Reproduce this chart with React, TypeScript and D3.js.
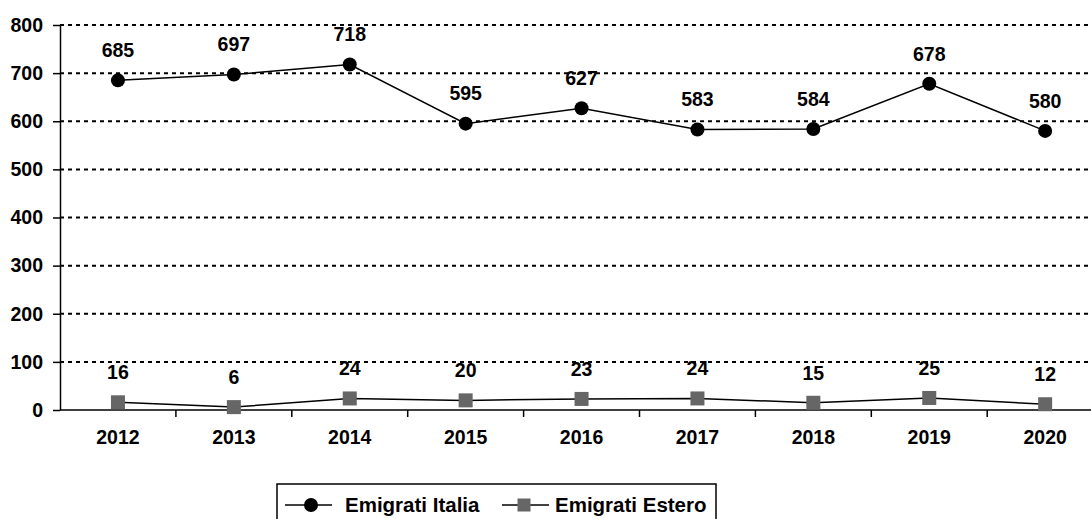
import { useEffect, useRef } from "react";
import * as d3 from "d3";

const years = ["2012", "2013", "2014", "2015", "2016", "2017", "2018", "2019", "2020"];
const italia = [685, 697, 718, 595, 627, 583, 584, 678, 580];
const estero = [16, 6, 24, 20, 23, 24, 15, 25, 12];
const yTicks = [0, 100, 200, 300, 400, 500, 600, 700, 800];
const seriesNames = ["Emigrati Italia", "Emigrati Estero"];

export default function App() {
  const ref = useRef<HTMLDivElement>(null);

  useEffect(() => {
    const outerWidth = 1091;
    const outerHeight = 519;
    const font = "'Liberation Sans', Arial, sans-serif";
    const fs = 19.5;

    const root = d3
      .select(ref.current)
      .html("")
      .append("svg")
      .attr("width", outerWidth)
      .attr("height", outerHeight)
      .style("display", "block")
      .style("font-family", font);

    root.append("rect").attr("width", outerWidth).attr("height", outerHeight).attr("fill", "white");

    const left = 60;
    const x = d3
      .scaleBand()
      .domain(years)
      .range([left, left + 115.9 * 9]);

    const y = d3.scaleLinear().domain([0, 800]).range([410, 25]);

    // dotted grid
    root
      .append("g")
      .selectAll("line")
      .data(yTicks.filter((d) => d > 0))
      .join("line")
      .attr("x1", left)
      .attr("x2", outerWidth)
      .attr("y1", (d) => y(d))
      .attr("y2", (d) => y(d))
      .attr("stroke", "black")
      .attr("stroke-width", 2)
      .attr("stroke-dasharray", "4,4");

    // y axis
    const yAxis = root
      .append("g")
      .attr("transform", `translate(${left},0)`)
      .call(d3.axisLeft(y).tickValues(yTicks).tickSize(7).tickSizeOuter(0).tickPadding(10));
    yAxis.select(".domain").attr("stroke", "black").attr("stroke-width", 1.5);
    yAxis.selectAll(".tick line").attr("stroke-width", 1.5);
    yAxis
      .selectAll(".tick text")
      .attr("font-family", font)
      .attr("font-size", fs)
      .attr("font-weight", "bold")
      .attr("fill", "black");

    // x axis
    const xAxis = root
      .append("g")
      .attr("transform", `translate(0,${y(0)})`)
      .call(d3.axisBottom(x).tickSize(0).tickPadding(20));
    xAxis.select(".domain").remove();
    xAxis
      .append("line")
      .attr("x1", left)
      .attr("x2", outerWidth)
      .attr("stroke", "black")
      .attr("stroke-width", 1.5);
    xAxis
      .selectAll("line.sep")
      .data(years.slice(1))
      .join("line")
      .attr("class", "sep")
      .attr("x1", (d) => x(d)!)
      .attr("x2", (d) => x(d)!)
      .attr("y1", 0)
      .attr("y2", 7)
      .attr("stroke", "black")
      .attr("stroke-width", 1.5);
    xAxis
      .selectAll(".tick text")
      .attr("font-family", font)
      .attr("font-size", fs)
      .attr("font-weight", "bold")
      .attr("fill", "black");

    const cx = (i: number) => x(years[i])! + x.bandwidth() / 2;
    const line = d3
      .line<number>()
      .x((_, i) => cx(i))
      .y((d) => y(d));

    const series = [italia, estero];
    series.forEach((vals, si) => {
      const g = root.append("g");
      g.append("path")
        .datum(vals)
        .attr("fill", "none")
        .attr("stroke", "black")
        .attr("stroke-width", 1.5)
        .attr("d", line);
      if (si === 0) {
        g.selectAll("circle")
          .data(vals)
          .join("circle")
          .attr("cx", (_, i) => cx(i))
          .attr("cy", (d) => y(d))
          .attr("r", 7)
          .attr("fill", "black");
      } else {
        g.selectAll("rect")
          .data(vals)
          .join("rect")
          .attr("x", (_, i) => cx(i) - 7)
          .attr("y", (d) => y(d) - 7)
          .attr("width", 14)
          .attr("height", 14)
          .attr("fill", "#666666");
      }
      g.selectAll("text")
        .data(vals)
        .join("text")
        .attr("x", (_, i) => cx(i))
        .attr("y", (d) => y(d) - 30)
        .attr("dy", "0.35em")
        .attr("text-anchor", "middle")
        .attr("font-size", fs)
        .attr("font-weight", "bold")
        .attr("fill", "black")
        .text((d) => d);
    });

    // legend
    const lg = root.append("g");
    lg.append("rect")
      .attr("x", 277)
      .attr("y", 484)
      .attr("width", 439)
      .attr("height", 45)
      .attr("fill", "white")
      .attr("stroke", "black")
      .attr("stroke-width", 1.5);
    const entries = [
      { x0: 285, tx: 345 },
      { x0: 502, tx: 555 },
    ];
    entries.forEach((e, i) => {
      const ly = 505;
      const mx = e.x0 + 22;
      lg.append("line")
        .attr("x1", e.x0)
        .attr("x2", e.x0 + 47)
        .attr("y1", ly)
        .attr("y2", ly)
        .attr("stroke", "black")
        .attr("stroke-width", 1.5);
      if (i === 0) {
        lg.append("circle").attr("cx", mx + 4).attr("cy", ly).attr("r", 7).attr("fill", "black");
      } else {
        lg.append("rect")
          .attr("x", mx - 6.5)
          .attr("y", ly - 6.5)
          .attr("width", 13)
          .attr("height", 13)
          .attr("fill", "#666666");
      }
      lg.append("text")
        .attr("x", e.tx)
        .attr("y", ly)
        .attr("dy", "0.35em")
        .attr("font-size", 20.5)
        .attr("font-weight", "bold")
        .attr("fill", "black")
        .text(seriesNames[i]);
    });
  }, []);

  return <div ref={ref} style={{ position: "absolute", left: 0, top: 0 }} />;
}
